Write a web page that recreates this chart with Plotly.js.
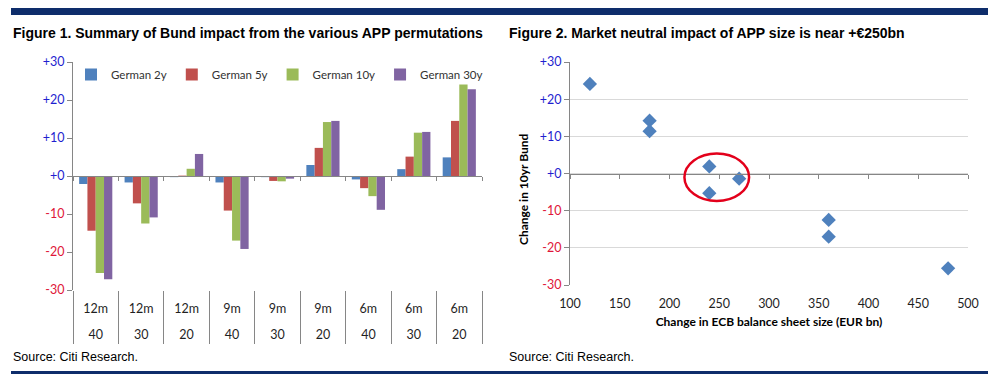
<!DOCTYPE html>
<html><head><meta charset="utf-8">
<script src="https://cdn.plot.ly/plotly-3.0.1.min.js"></script>
<style>html,body{margin:0;padding:0;background:#fff}#chart{width:996px;height:385px}</style>
</head><body><div id="chart"></div>
<script>
// ---- data ----
const months = ["12m","12m","12m","9m","9m","9m","6m","6m","6m"];
const sizes = ["40","30","20","40","30","20","40","30","20"];
const german2y = [-2.1,-1.7,-0.3,-1.7,-0.3,2.9,-0.9,1.8,4.9];
const german5y = [-14.4,-7.2,0.1,-9.1,-1.3,7.4,-3.2,5.1,14.5];
const german10y = [-25.5,-12.5,1.9,-17.0,-1.4,14.2,-5.3,11.4,24.1];
const german30y = [-27.2,-10.9,5.8,-19.2,-0.7,14.5,-8.9,11.6,22.8];
const ecbSize = [480,360,240,360,270,180,240,180,120];
const seriesNames = ["German 2y","German 5y","German 10y","German 30y"];
const yTicks = [-30,-20,-10,0,10,20,30];
const xTicks2 = [100,150,200,250,300,350,400,450,500];
const highlight = {x0:215, x1:280, y0:-7.4, y1:5.4};

// ---- helpers ----
const W = 996, H = 385;
const px = p => p / W;
const py = p => 1 - p / H;
const colors = ["#4F81BD","#C0504D","#9BBB59","#8064A2"];
const series = [german2y, german5y, german10y, german30y];
const cats = months.map((m,i) => m + " " + sizes[i]);
const idx = months.map((_,i) => i);
const tickText = yTicks.map(v => v >= 0
  ? "<span style='color:#1F1FCF'>+" + v + "</span>"
  : "<span style='color:#E0173A'>" + v + "</span>");
const axisGray = "#868686";
const tfont = {family:"Lato, sans-serif", size:12.5, color:"#1F1F1F"};
const yDom1 = [py(290), py(62)];
const yDom2 = [py(285), py(62)];
const zeroPos = (dom) => dom[0] + (0 - yTicks[0]) / (yTicks[yTicks.length-1] - yTicks[0]) * (dom[1] - dom[0]);

const traces = series.map((s,i) => ({
  type:"bar", x:cats, y:s, name:seriesNames[i], marker:{color:colors[i]},
  xaxis:"x", yaxis:"y", hoverinfo:"skip"
}));
traces.push({
  type:"scatter", mode:"markers", x:ecbSize, y:german10y, xaxis:"x2", yaxis:"y2",
  marker:{symbol:"diamond", size:11, color:"#4F81BD"}, showlegend:false, hoverinfo:"skip"
});
// empty helper traces so the overlay label/zero-line axes are rendered
[["x3","y"],["x4","y"],["x5","y"]].forEach(([xa,ya]) => traces.push({
  type:"scatter", mode:"markers", x:idx, y:idx.map(() => null), xaxis:xa, yaxis:ya,
  showlegend:false, hoverinfo:"skip"
}));
traces.push({type:"scatter", mode:"markers", x:xTicks2, y:xTicks2.map(() => null), xaxis:"x6", yaxis:"y2",
  showlegend:false, hoverinfo:"skip"});

const layout = {
  width:W, height:H, margin:{l:0,r:0,t:0,b:0},
  paper_bgcolor:"#fff", plot_bgcolor:"rgba(0,0,0,0)",
  font:{family:"Lato, sans-serif", size:12, color:"#262626"},
  barmode:"group", bargap:0.27, bargroupgap:0,
  showlegend:true,
  legend:{orientation:"h", x:px(71), y:py(60), xanchor:"left", yanchor:"top",
    font:{family:"Lato, sans-serif", size:11.5, color:"#333333"}, bgcolor:"rgba(0,0,0,0)",
    itemwidth:30, traceorder:"normal"},
  xaxis:{domain:[px(73), px(482)], anchor:"y", type:"category", categoryarray:cats,
    range:[-0.5, 8.5], showticklabels:false, ticks:"outside", tickson:"boundaries",
    ticklen:53, tickcolor:axisGray, showline:false, showgrid:false, zeroline:false},
  xaxis3:{overlaying:"x", anchor:"free", position:py(299), range:[-0.5,8.5],
    tickvals:idx, ticktext:months, ticks:"", showline:false, showgrid:false, zeroline:false, tickfont:tfont},
  xaxis4:{overlaying:"x", anchor:"free", position:py(325), range:[-0.5,8.5],
    tickvals:idx, ticktext:sizes, ticks:"", showline:false, showgrid:false, zeroline:false, tickfont:tfont},
  xaxis5:{overlaying:"x", anchor:"free", position:zeroPos(yDom1), range:[-0.5,8.5],
    tick0:-0.5, dtick:1, ticks:"outside", ticklen:4, tickcolor:axisGray, showticklabels:false,
    showline:true, linecolor:axisGray, showgrid:false, zeroline:false},
  yaxis:{domain:yDom1, anchor:"x", range:[-30,30], tickvals:yTicks, ticktext:tickText,
    ticks:"outside", ticklen:5, tickcolor:axisGray, showline:true, linecolor:axisGray,
    showgrid:false, zeroline:false, tickfont:{family:"Lato, sans-serif", size:12.5}},
  xaxis2:{domain:[px(570), px(968)], anchor:"y2", range:[100,500], tickvals:xTicks2,
    ticks:"outside", ticklen:7, tickcolor:"rgba(0,0,0,0)", showline:false, showgrid:false, zeroline:false,
    tickfont:tfont,
    title:{text:"Change in ECB balance sheet size (EUR bn)", standoff:7,
      font:{family:"Lato, sans-serif", size:12, color:"#000", weight:"bold"}}},
  xaxis6:{overlaying:"x2", anchor:"free", position:zeroPos(yDom2), range:[100,500],
    tickvals:xTicks2, ticks:"outside", ticklen:4, tickcolor:axisGray, showticklabels:false,
    showline:true, linecolor:axisGray, showgrid:false, zeroline:false},
  yaxis2:{domain:yDom2, anchor:"x2", range:[-30,30], tickvals:yTicks, ticktext:tickText,
    ticks:"outside", ticklen:5, tickcolor:axisGray, showline:true, linecolor:axisGray,
    showgrid:true, gridcolor:"#D9D9D9", zeroline:false, tickfont:{family:"Lato, sans-serif", size:12.5}},
  shapes:[
    {type:"rect", xref:"paper", yref:"paper", x0:px(11), x1:px(988), y0:py(15), y1:py(8),
      fillcolor:"#0E2D6B", line:{width:0}},
    {type:"rect", xref:"paper", yref:"paper", x0:px(11), x1:px(988), y0:py(374), y1:py(371),
      fillcolor:"#0E2D6B", line:{width:0}},
    {type:"circle", xref:"x2", yref:"y2", x0:highlight.x0, x1:highlight.x1, y0:highlight.y0, y1:highlight.y1,
      line:{color:"#E3001B", width:2.5}}
  ],
  annotations:[
    {text:"Figure 1. Summary of Bund impact from the various APP permutations", xref:"paper", yref:"paper",
      x:px(11), y:py(33), xanchor:"left", yanchor:"middle", showarrow:false,
      font:{family:"Liberation Sans, Arial, sans-serif", size:14, color:"#000", weight:"bold"}},
    {text:"Figure 2. Market neutral impact of APP size is near +€250bn", xref:"paper", yref:"paper",
      x:px(507), y:py(33), xanchor:"left", yanchor:"middle", showarrow:false,
      font:{family:"Liberation Sans, Arial, sans-serif", size:14, color:"#000", weight:"bold"}},
    {text:"Source: Citi Research.", xref:"paper", yref:"paper", x:px(11), y:py(357),
      xanchor:"left", yanchor:"middle", showarrow:false,
      font:{family:"Liberation Sans, Arial, sans-serif", size:12.5, color:"#000"}},
    {text:"Source: Citi Research.", xref:"paper", yref:"paper", x:px(507), y:py(357),
      xanchor:"left", yanchor:"middle", showarrow:false,
      font:{family:"Liberation Sans, Arial, sans-serif", size:12.5, color:"#000"}},
    {text:"Change in 10yr Bund", xref:"paper", yref:"paper", x:px(523), y:py(189), textangle:-90,
      xanchor:"center", yanchor:"middle", showarrow:false,
      font:{family:"Lato, sans-serif", size:12, color:"#000", weight:"bold"}}
  ]
};

Plotly.newPlot("chart", traces, layout, {displayModeBar:false, staticPlot:true});
</script>
</body></html>
